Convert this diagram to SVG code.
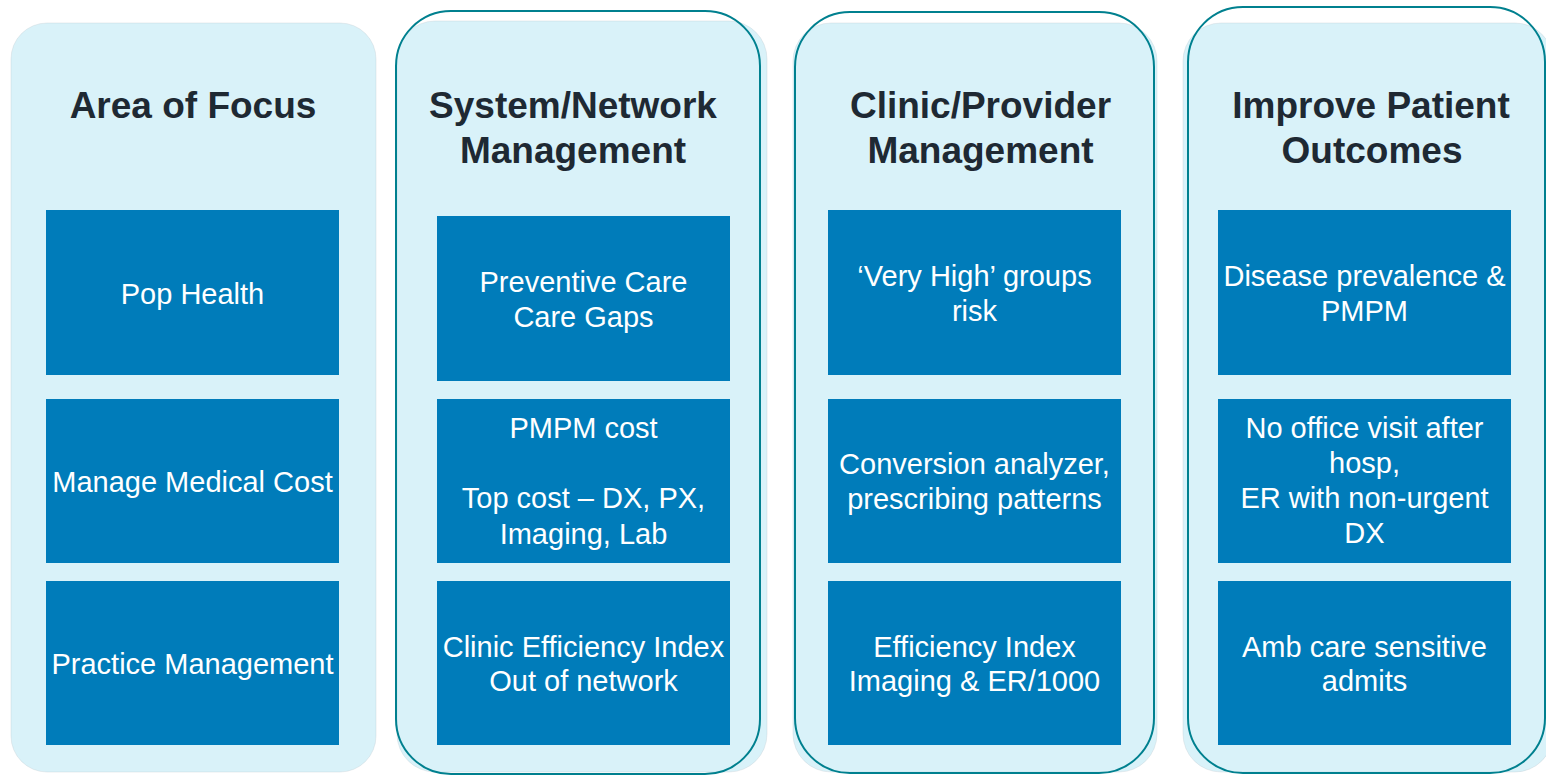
<svg xmlns="http://www.w3.org/2000/svg" width="1546" height="775" viewBox="0 0 1546 775">
  <style>
    .panel { fill: #d9f2f9; stroke: #b8c4c8; stroke-width: 0.6; stroke-opacity: 0.5; }
    .outline { fill: none; stroke: #00808f; stroke-width: 2; }
    .box { fill: #007cba; }
    .title { font-family: "Liberation Sans", Arial, sans-serif; font-weight: bold; font-size: 37px; fill: #1e2933; text-anchor: middle; }
    .label { font-family: "Liberation Sans", Arial, sans-serif; font-size: 29px; fill: #ffffff; text-anchor: middle; }
  </style>
  <rect width="1546" height="775" fill="#ffffff"/>

  <!-- Column 1: Area of Focus -->
  <g id="col-focus">
    <rect class="panel" x="11" y="23" width="365" height="749" rx="36"/>
    <text class="title" x="193" y="118">Area of Focus</text>
  </g>
  <g id="focus-pop-health">
    <rect class="box" x="46" y="210" width="293" height="165"/>
    <text class="label" x="192.5" y="304">Pop Health</text>
  </g>
  <g id="focus-medical-cost">
    <rect class="box" x="46" y="399" width="293" height="164"/>
    <text class="label" x="192.5" y="492">Manage Medical Cost</text>
  </g>
  <g id="focus-practice">
    <rect class="box" x="46" y="581" width="293" height="164"/>
    <text class="label" x="192.5" y="674">Practice Management</text>
  </g>

  <!-- Column 2: System/Network Management -->
  <g id="col-system">
    <rect class="panel" x="397" y="21" width="370" height="751" rx="38"/>
    <rect class="outline" x="396" y="11" width="364" height="763" rx="55"/>
    <text class="title" x="573" y="118">System/Network</text>
    <text class="title" x="573" y="163">Management</text>
  </g>
  <g id="system-preventive">
    <rect class="box" x="437" y="216" width="293" height="165"/>
    <text class="label" x="583.5" y="292">Preventive Care</text>
    <text class="label" x="583.5" y="327">Care Gaps</text>
  </g>
  <g id="system-cost">
    <rect class="box" x="437" y="399" width="293" height="164"/>
    <text class="label" x="583.5" y="438">PMPM cost</text>
    <text class="label" x="583.5" y="508">Top cost – DX, PX,</text>
    <text class="label" x="583.5" y="544">Imaging, Lab</text>
  </g>
  <g id="system-efficiency">
    <rect class="box" x="437" y="581" width="293" height="164"/>
    <text class="label" x="583.5" y="657">Clinic Efficiency Index</text>
    <text class="label" x="583.5" y="691">Out of network</text>
  </g>

  <!-- Column 3: Clinic/Provider Management -->
  <g id="col-clinic">
    <rect class="panel" x="793" y="23" width="364" height="749" rx="38"/>
    <rect class="outline" x="795" y="12" width="359" height="761" rx="55"/>
    <text class="title" x="980.5" y="118">Clinic/Provider</text>
    <text class="title" x="980.5" y="163">Management</text>
  </g>
  <g id="clinic-risk">
    <rect class="box" x="828" y="210" width="293" height="165"/>
    <text class="label" x="974.5" y="286">‘Very High’ groups</text>
    <text class="label" x="974.5" y="321">risk</text>
  </g>
  <g id="clinic-conversion">
    <rect class="box" x="828" y="399" width="293" height="164"/>
    <text class="label" x="974.5" y="474">Conversion analyzer,</text>
    <text class="label" x="974.5" y="509">prescribing patterns</text>
  </g>
  <g id="clinic-efficiency">
    <rect class="box" x="828" y="581" width="293" height="164"/>
    <text class="label" x="974.5" y="657">Efficiency Index</text>
    <text class="label" x="974.5" y="691">Imaging &amp; ER/1000</text>
  </g>

  <!-- Column 4: Improve Patient Outcomes -->
  <g id="col-outcomes">
    <rect class="panel" x="1183" y="23" width="370" height="749" rx="38"/>
    <rect class="outline" x="1188" y="7" width="357" height="766" rx="55"/>
    <text class="title" x="1371" y="118">Improve Patient</text>
    <text class="title" x="1372" y="163">Outcomes</text>
  </g>
  <g id="outcomes-prevalence">
    <rect class="box" x="1218" y="210" width="293" height="165"/>
    <text class="label" x="1364.5" y="286">Disease prevalence &amp;</text>
    <text class="label" x="1364.5" y="321">PMPM</text>
  </g>
  <g id="outcomes-visits">
    <rect class="box" x="1218" y="399" width="293" height="164"/>
    <text class="label" x="1364.5" y="438">No office visit after</text>
    <text class="label" x="1364.5" y="473">hosp,</text>
    <text class="label" x="1364.5" y="508">ER with non-urgent</text>
    <text class="label" x="1364.5" y="543">DX</text>
  </g>
  <g id="outcomes-admits">
    <rect class="box" x="1218" y="581" width="293" height="164"/>
    <text class="label" x="1364.5" y="657">Amb care sensitive</text>
    <text class="label" x="1364.5" y="691">admits</text>
  </g>

  <!-- no connectors between columns -->
  <g id="connectors"/>
</svg>
